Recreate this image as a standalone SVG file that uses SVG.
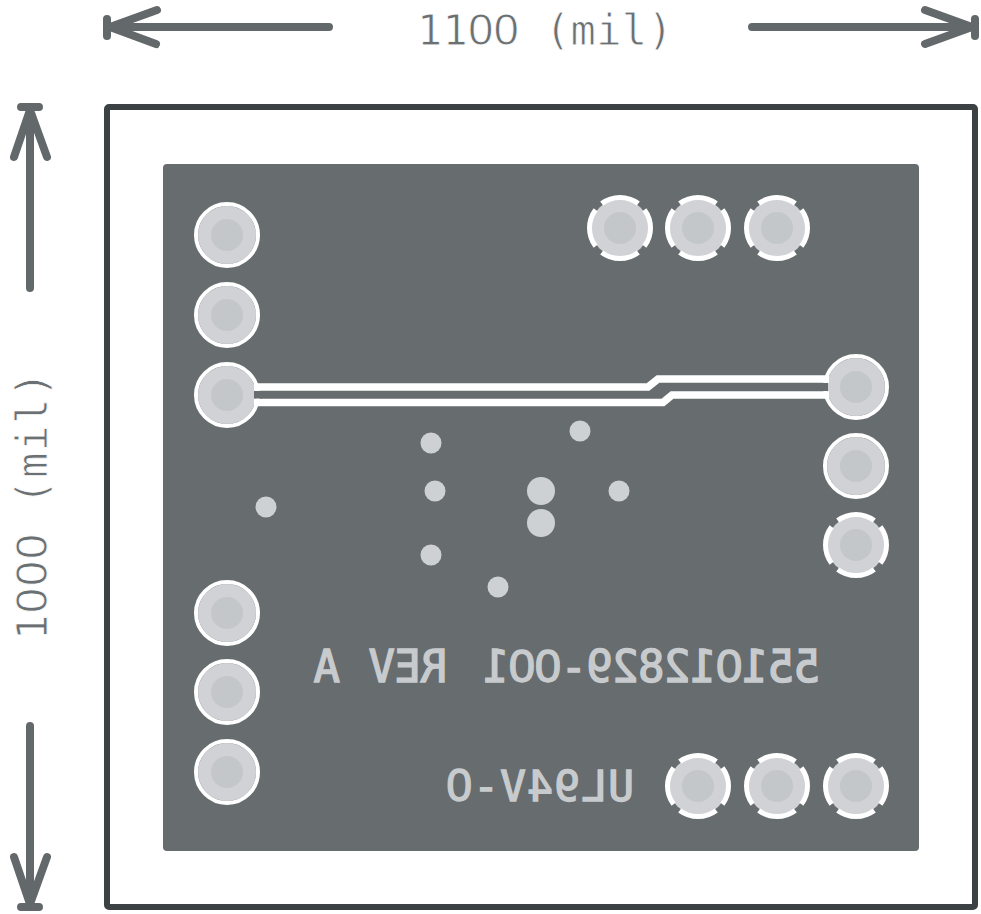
<svg xmlns="http://www.w3.org/2000/svg" width="981" height="914" viewBox="0 0 981 914">
<style>
.ring{fill:none;stroke:#fff;stroke-width:4}
.th{stroke-width:5;stroke-dasharray:20.5 4.5;stroke-dashoffset:10.25}
.pad{fill:#d0d2d5}
.hole{fill:#c3c7ca}
.via{fill:#ced1d3}
.silk{font-family:"DejaVu Sans Mono","Liberation Mono",monospace;fill:#c8cbcd;stroke:#c8cbcd;stroke-width:1.4}
.dim{font-family:"DejaVu Sans Mono","Liberation Mono",monospace;fill:#6b7073;font-size:42px;stroke:#fff;stroke-width:.8}
.z{font-family:"Liberation Sans",sans-serif;font-size:1.07em}
.arrow{fill:none;stroke:#63686b;stroke-width:8;stroke-linecap:round;stroke-linejoin:round}
.tip{fill:#63686b}
.trace{fill:none;stroke:#fff;stroke-width:7.5}
.gap{fill:#676c6f}
</style>
<defs>
<g id="p"><circle class="pad" r="29"/><circle class="ring" r="31"/><circle class="hole" r="16"/></g>
<g id="t"><circle class="pad" r="29"/><circle class="ring th" r="30.5" pathLength="100"/><circle class="hole" r="16"/></g>
</defs>
<rect width="981" height="914" fill="#fff"/>
<g id="outline"><rect x="107" y="107" width="868" height="800" rx="2" fill="#fff" stroke="#3c4244" stroke-width="6"/></g>
<g id="board"><rect x="163" y="164" width="756" height="687" rx="4" fill="#676c6f"/></g>
<g id="pad-l1"><use href="#p" x="227" y="235"/></g>
<g id="pad-l2"><use href="#p" x="227" y="315"/></g>
<g id="pad-l3"><use href="#p" x="227" y="395"/></g>
<g id="pad-l4"><use href="#p" x="227" y="613"/></g>
<g id="pad-l5"><use href="#p" x="227" y="692"/></g>
<g id="pad-l6"><use href="#p" x="227" y="772"/></g>
<g id="pad-r1"><use href="#p" x="856" y="387"/></g>
<g id="pad-r2"><use href="#p" x="856" y="466"/></g>
<g id="pad-r3"><use href="#t" x="856" y="545"/></g>
<g id="pad-t1"><use href="#t" x="620" y="228"/></g>
<g id="pad-t2"><use href="#t" x="698" y="228"/></g>
<g id="pad-t3"><use href="#t" x="777" y="228"/></g>
<g id="pad-b1"><use href="#t" x="698" y="786"/></g>
<g id="pad-b2"><use href="#t" x="777" y="786"/></g>
<g id="pad-b3"><use href="#t" x="856" y="786"/></g>
<g id="connectors">
<path class="trace" d="M254 387H648L658 379H829"/>
<path class="trace" d="M254 402.5H663L672 395H829"/>
<rect class="gap" x="254" y="391" width="8" height="7.5"/>
<rect class="gap" x="822" y="383" width="6" height="8"/>
<g class="arrow">
<path d="M329 27H110M107 19V36M157 10L110 27L156 44"/>
<path d="M752 27H972M975 19V36M925 10L972 27L925 44"/>
<path d="M30 288V110M21 107H39M14 157L30 110L47 157"/>
<path d="M30 726V904M21 907H39M14 857L30 904L47 857"/>
</g>
<path class="tip" d="M110 27L130 18V36ZM972 27L952 18V36ZM30 110L21 130H39ZM30 904L21 884H39Z"/>
</g>
<g id="vias">
<circle class="via" cx="431" cy="443" r="10.5"/>
<circle class="via" cx="580" cy="431" r="10.5"/>
<circle class="via" cx="435" cy="491" r="10.5"/>
<circle class="via" cx="619" cy="491" r="10.5"/>
<circle class="via" cx="266" cy="507" r="10.5"/>
<circle class="via" cx="431" cy="555" r="10.5"/>
<circle class="via" cx="498" cy="587" r="10.5"/>
<circle class="via" cx="541" cy="491" r="14"/>
<circle class="via" cx="541" cy="523" r="14"/>
</g>
<g id="labels">
<text class="silk" transform="translate(820,682) scale(-1,1)" font-size="44" x="0 25.9 51.8 77.7 103.6 129.5 155.4 181.3 207.2 233.1 259 284.9 310.8 340 373 399 425 452 480">551<tspan class="z">0</tspan>12829-<tspan class="z">00</tspan>1 REV A</text>
<text class="silk" transform="translate(634,801) scale(-1,1)" font-size="43" x="0 27 54 81 108 135 162">UL94V-<tspan class="z">0</tspan></text>
<text class="dim" y="45" x="417 442.6 468.2 493.8 519.4 545 570.6 596.2 621.8 647.4">11<tspan class="z">00</tspan> (mil)</text>
<text class="dim" transform="translate(47,640) rotate(-90)" x="0 27 54 81 108 135 162 189 216 243">1<tspan class="z">000</tspan> (mil)</text>
</g>
</svg>
